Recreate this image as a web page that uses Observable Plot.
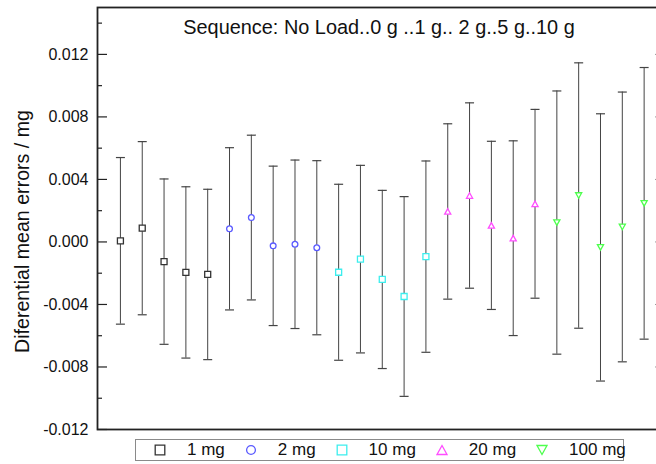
<!DOCTYPE html>
<html>
<head>
<meta charset="utf-8">
<script src="https://cdn.jsdelivr.net/npm/d3@7"></script>
<script src="https://cdn.jsdelivr.net/npm/@observablehq/plot@0.6"></script>
<style>
  html, body { margin: 0; padding: 0; background: #fff; }
  #chart { position: relative; width: 656px; height: 464px; font-family: "Liberation Sans", Arial, sans-serif; color: #111; }
  #chart svg.plot { display: block; }
  #legend { position: absolute; left: 135px; top: 439px; width: 469px; height: 20px;
            border: 1px solid #8a8a8a; display: flex; align-items: center; padding-left: 18px; box-sizing: content-box; }
  #legend .sym { display: block; flex: 0 0 auto; }
  #legend span { flex: 0 0 auto; font-size: 17px; margin: 0 20px 0 21px; line-height: 20px; white-space: nowrap; }
</style>
</head>
<body>
<div id="chart"></div>
<script>
// Differential mean errors (mg) for each check weight, five runs per weight,
// with the half-width of each error bar.
const series = ["1 mg", "2 mg", "10 mg", "20 mg", "100 mg"];
const colors = ["#333333", "#5b5bff", "#3ceeee", "#ff4dff", "#4dff4d"];
const shapeNames = ["square", "circle", "square", "triangleUp", "triangleDown"];
const shapeRadius = [4.8, 4.4, 4.8, 5, 5];

const mean1mg   = [0.00007, 0.00088, -0.00126, -0.00195, -0.00208];
const mean2mg   = [0.00084, 0.00156, -0.00025, -0.00015, -0.00037];
const mean10mg  = [-0.00194, -0.00110, -0.00240, -0.00349, -0.00094];
const mean20mg  = [0.00195, 0.00297, 0.00106, 0.00024, 0.00244];
const mean100mg = [0.00124, 0.00297, -0.00035, 0.00096, 0.00247];

const err1mg    = [0.00533, 0.00554, 0.00529, 0.00548, 0.00545];
const err2mg    = [0.00519, 0.00527, 0.00510, 0.00539, 0.00557];
const err10mg   = [0.00563, 0.00600, 0.00570, 0.00639, 0.00612];
const err20mg   = [0.00561, 0.00593, 0.00538, 0.00623, 0.00604];
const err100mg  = [0.00842, 0.00849, 0.00855, 0.00863, 0.00869];

const yTicks = [-0.012, -0.008, -0.004, 0, 0.004, 0.008, 0.012];
const yMinorTicks = [-0.010, -0.006, -0.002, 0.002, 0.006, 0.010, 0.014];

const titleText = "Sequence: No Load..0 g ..1 g.. 2 g..5 g..10 g";
const yLabel = "Diferential mean errors / mg";

// Marker shapes; half-width is derived from Plot's symbol size (size = π r²).
const symbols = {
  square: { draw(ctx, size) { const r = Math.sqrt(size / Math.PI); ctx.rect(-r, -r, 2 * r, 2 * r); } },
  circle: { draw(ctx, size) { const r = Math.sqrt(size / Math.PI); ctx.moveTo(r, 0); ctx.arc(0, 0, r, 0, 2 * Math.PI); } },
  triangleUp: { draw(ctx, size) { const r = Math.sqrt(size / Math.PI); const h = r * 0.9;
    ctx.moveTo(0, -h); ctx.lineTo(r, h); ctx.lineTo(-r, h); ctx.closePath(); } },
  triangleDown: { draw(ctx, size) { const r = Math.sqrt(size / Math.PI); const h = r * 0.9;
    ctx.moveTo(-r, -h); ctx.lineTo(r, -h); ctx.lineTo(0, h); ctx.closePath(); } },
  cap: { draw(ctx, size) { const r = Math.sqrt(size / Math.PI); ctx.moveTo(-r, 0); ctx.lineTo(r, 0); } }
};

const means = [mean1mg, mean2mg, mean10mg, mean20mg, mean100mg];
const errs = [err1mg, err2mg, err10mg, err20mg, err100mg];

// One row per measurement, numbered in sequence along x.
const rows = [];
series.forEach((s, si) => {
  means[si].forEach((m, j) => {
    rows.push({ run: rows.length + 1, series: s, mean: m, err: errs[si][j], si });
  });
});

const W = 656, H = 437;
const mLeft = 97, mRight = -4, mTop = 7, mBottom = 8;
const frameW = W - mLeft - mRight;

const marks = [
  // inward ticks on the left axis (major and minor) and on the right side
  Plot.tickY(yTicks, { y: d => d, stroke: "#222", strokeWidth: 1.2, insetRight: frameW - 10 }),
  Plot.tickY(yMinorTicks, { y: d => d, stroke: "#222", strokeWidth: 1.2, insetRight: frameW - 5 }),
  Plot.tickY(yTicks, { y: d => d, stroke: "#999", strokeWidth: 1, insetLeft: frameW - 5 }),
  Plot.axisY({ ticks: yTicks, tickSize: 0, tickPadding: 9, tickFormat: d => d.toFixed(3), fontSize: 16, label: null }),
  // error bars with caps
  Plot.ruleX(rows, { x: "run", y1: d => d.mean - d.err, y2: d => d.mean + d.err, stroke: "#444", strokeWidth: 1 }),
  Plot.dot(rows, { x: "run", y: d => d.mean + d.err, symbol: () => symbols.cap, r: 4.5, stroke: "#444", strokeWidth: 1.2, fill: "none" }),
  Plot.dot(rows, { x: "run", y: d => d.mean - d.err, symbol: () => symbols.cap, r: 4.5, stroke: "#444", strokeWidth: 1.2, fill: "none" }),
  // open markers for the means
  Plot.dot(rows, { x: "run", y: "mean", symbol: d => symbols[shapeNames[d.si]], r: d => shapeRadius[d.si],
    stroke: d => colors[d.si], strokeWidth: 1.3, fill: "white" }),
  Plot.text([titleText], { text: d => d, frameAnchor: "top", lineAnchor: "bottom", dy: 26, fontSize: 19.9, fill: "#111" }),
  Plot.text([yLabel], { text: d => d, frameAnchor: "left", textAnchor: "middle", rotate: -90, dx: -75, dy: 13, fontSize: 19.6, fill: "#111" }),
  Plot.frame({ stroke: "#222", strokeWidth: 1.8 })
];

const chart = Plot.plot({
  width: W,
  height: H,
  marginLeft: mLeft,
  marginRight: mRight,
  marginTop: mTop,
  marginBottom: mBottom,
  style: { fontFamily: '"Liberation Sans", Arial, sans-serif', background: "white", color: "#111", overflow: "hidden" },
  x: { domain: [-0.05, 25.75], axis: null },
  y: { domain: [-0.012, 0.015], axis: null },
  marks
});
chart.classList.add("plot");
document.getElementById("chart").appendChild(chart);

// Legend below the plot
const legend = d3.select("#chart").append("div").attr("id", "legend");
series.forEach((s, si) => {
  const svg = legend.append("svg").attr("class", "sym").attr("width", 12).attr("height", 12);
  const r = shapeRadius[si];
  svg.append("path")
    .attr("transform", "translate(6,6)")
    .attr("d", d3.symbol().type(symbols[shapeNames[si]]).size(r * r * Math.PI)())
    .attr("fill", "white")
    .attr("stroke", colors[si])
    .attr("stroke-width", 1.3);
  legend.append("span").text(s);
});
</script>
</body>
</html>
